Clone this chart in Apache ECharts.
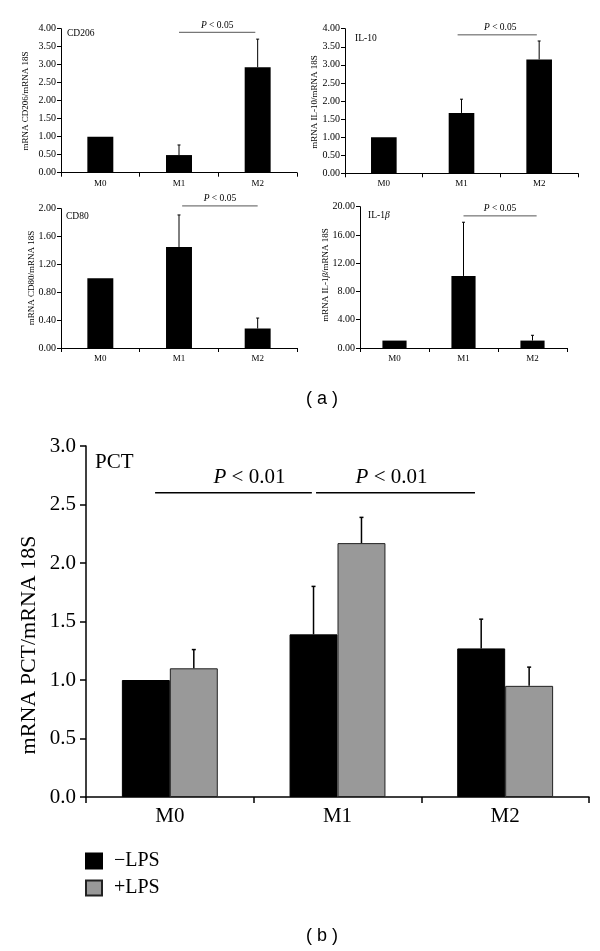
<!DOCTYPE html>
<html>
<head>
<meta charset="utf-8">
<script src="https://cdn.jsdelivr.net/npm/echarts@6/dist/echarts.min.js"></script>
<style>
html,body{margin:0;padding:0;background:#fff;}
#chart{width:600px;height:951px;}
</style>
</head>
<body>
<div id="chart"></div>
<script>
// ---------- data ----------
const categories = ['M0', 'M1', 'M2'];

const cd206Mean = [1.00, 0.49, 2.93];
const cd206Err  = [0, 0.28, 0.78];
const il10Mean  = [1.00, 1.67, 3.15];
const il10Err   = [0, 0.38, 0.51];
const cd80Mean  = [1.00, 1.45, 0.28];
const cd80Err   = [0, 0.46, 0.15];
const il1bMean  = [1.05, 10.2, 1.05];
const il1bErr   = [0, 7.6, 0.75];

const pctMinusLPS    = [1.00, 1.39, 1.27];
const pctMinusLPSErr = [0, 0.41, 0.25];
const pctPlusLPS     = [1.10, 2.17, 0.95];
const pctPlusLPSErr  = [0.16, 0.22, 0.16];

// significance brackets: [fromCategoryIndex, toCategoryIndex, yValue]
const cd206Sig = [[1, 2, 3.90]];
const il10Sig  = [[1, 2, 3.83]];
const cd80Sig  = [[1, 2, 2.04]];
const il1bSig  = [[1, 2, 18.7]];
const pctSig   = [[0, 1, 2.60], [1, 2, 2.60]];

// y-axis ticks: [min, max, interval]
const yTicksSmall = { cd206: [0, 4, 0.5], il10: [0, 4, 0.5], cd80: [0, 2, 0.4], il1b: [0, 20, 4], pct: [0, 3, 0.5] };

// ---------- styling / layout ----------
const SERIF = '"Liberation Serif", "Times New Roman", serif';
const SANS = '"Liberation Sans", Arial, sans-serif';
const chart = echarts.init(document.getElementById('chart'), null, { renderer: 'canvas' });

const grids = [
  { left: 61, top: 28.7, width: 236, height: 144 },
  { left: 345, top: 28.7, width: 233, height: 144.6 },
  { left: 61, top: 208.7, width: 236, height: 139.3 },
  { left: 360, top: 206.7, width: 207, height: 141.3 },
  { left: 86, top: 446, width: 503, height: 351 }
];

function xAx(gi, fs, margin, lw) {
  return {
    type: 'category', gridIndex: gi, data: categories,
    axisLine: { show: true, lineStyle: { color: '#000', width: lw } },
    axisTick: { show: true, length: gi === 4 ? 6 : 4, lineStyle: { color: '#000', width: lw } },
    axisLabel: { color: '#000', fontFamily: SERIF, fontSize: fs, margin: margin }
  };
}
function yAx(gi, t, dec, fs, margin, lw) {
  return {
    type: 'value', gridIndex: gi, min: t[0], max: t[1], interval: t[2],
    axisLine: { show: true, lineStyle: { color: '#000', width: lw } },
    axisTick: { show: true, length: gi === 4 ? 6 : 4, lineStyle: { color: '#000', width: lw } },
    splitLine: { show: false },
    axisLabel: { color: '#000', fontFamily: SERIF, fontSize: fs, margin: margin,
      formatter: v => Number(v).toFixed(dec) }
  };
}

function errData(mean, err) { return mean.map((m, i) => [i, m, err[i]]); }

function errSeries(gi, mean, err, offsetFrac, cap, lw, name) {
  return {
    type: 'custom', name: name, xAxisIndex: gi, yAxisIndex: gi, z: 5, clip: false, silent: true,
    encode: { x: 0, y: 1 },
    data: errData(mean, err),
    renderItem: function (params, api) {
      const e = api.value(2);
      if (!e) return null;
      const c = api.value(0), m = api.value(1);
      const a = api.coord([c, m]);
      const b = api.coord([c, m + e]);
      const bw = api.size([1, 0])[0];
      const x = a[0] + offsetFrac * bw;
      const st = { stroke: '#000', lineWidth: lw };
      return { type: 'group', children: [
        { type: 'line', shape: { x1: x, y1: a[1], x2: x, y2: b[1] }, style: st },
        { type: 'line', shape: { x1: x - cap, y1: b[1], x2: x + cap, y2: b[1] }, style: st }
      ] };
    }
  };
}

function sigSeries(gi, sig, label, fs, lw, off1, off2, textDy, textDx) {
  return {
    type: 'custom', xAxisIndex: gi, yAxisIndex: gi, z: 6, clip: false, silent: true,
    encode: { x: [0, 1], y: 2 },
    data: sig,
    renderItem: function (params, api) {
      const bw = api.size([1, 0])[0];
      const p1 = api.coord([api.value(0), api.value(2)]);
      const p2 = api.coord([api.value(1), api.value(2)]);
      const i = params.dataIndex;
      const x1 = p1[0] + off1[i] * bw, x2 = p2[0] + off2[i] * bw;
      return { type: 'group', children: [
        { type: 'line', shape: { x1: x1, y1: p1[1], x2: x2, y2: p1[1] },
          style: { stroke: gi === 4 ? '#000' : '#555', lineWidth: lw } },
        { type: 'text', x: (x1 + x2) / 2 + textDx[i], y: p1[1] - textDy,
          style: { text: '{i|P} < ' + label, fontFamily: SERIF, fontSize: fs, fill: '#000',
            align: 'center', verticalAlign: 'bottom',
            rich: { i: { fontStyle: 'italic', fontFamily: SERIF, fontSize: fs, fill: '#000' } } } }
      ] };
    }
  };
}

function barSeries(gi, name, data, color, width, border) {
  return {
    type: 'bar', name: name, xAxisIndex: gi, yAxisIndex: gi, data: data,
    barWidth: width, barGap: '0%', silent: true, z: 2,
    itemStyle: { color: color, borderColor: border, borderWidth: border ? 1 : 0 }
  };
}

function vText(text, x, y, fs, rich) {
  return { type: 'text', x: x, y: y, rotation: Math.PI / 2, silent: true,
    style: { text: text, fontFamily: SERIF, fontSize: fs, fill: '#000', align: 'center', verticalAlign: 'middle', rich: rich || {} } };
}
function hText(text, x, y, fs, family, rich, align) {
  return { type: 'text', x: x, y: y, silent: true,
    style: { text: text, fontFamily: family, fontSize: fs, fill: '#000', align: align || 'left', verticalAlign: 'middle', rich: rich || {} } };
}
const betaRich9 = { b: { fontStyle: 'italic', fontFamily: SERIF, fontSize: 9, fill: '#000' } };

const small = 9;
const tickSmall = 10;
const option = {
  animation: false,
  backgroundColor: '#fff',
  grid: grids.map(g => Object.assign({ containLabel: false }, g)),
  xAxis: [
    xAx(0, small, 6, 1), xAx(1, small, 6, 1), xAx(2, small, 6, 1), xAx(3, small, 6, 1), xAx(4, 21, 9, 1.5)
  ],
  yAxis: [
    yAx(0, yTicksSmall.cd206, 2, tickSmall, 5, 1),
    yAx(1, yTicksSmall.il10, 2, tickSmall, 5, 1),
    yAx(2, yTicksSmall.cd80, 2, tickSmall, 5, 1),
    yAx(3, yTicksSmall.il1b, 2, tickSmall, 5, 1),
    yAx(4, yTicksSmall.pct, 1, 21, 10, 1.5)
  ],
  legend: {
    data: ['\u2212LPS', '+LPS'], orient: 'vertical', left: 85, top: 851, padding: 0,
    itemWidth: 16, itemHeight: 15, itemGap: 7, icon: 'rect', selectedMode: false,
    textStyle: { fontFamily: SERIF, fontSize: 20, color: '#000', padding: [0, 0, 0, 7] }
  },
  series: [
    barSeries(0, 'cd206', cd206Mean, '#000', '33%'),
    errSeries(0, cd206Mean, cd206Err, 0, 1.5, 1),
    sigSeries(0, cd206Sig, '0.05', 9.5, 1, [0], [-0.03], 2, [0]),

    barSeries(1, 'il10', il10Mean, '#000', '33%'),
    errSeries(1, il10Mean, il10Err, 0, 1.5, 1),
    sigSeries(1, il10Sig, '0.05', 9.5, 1, [-0.05], [-0.03], 2, [3]),

    barSeries(2, 'cd80', cd80Mean, '#000', '33%'),
    errSeries(2, cd80Mean, cd80Err, 0, 1.5, 1),
    sigSeries(2, cd80Sig, '0.05', 9.5, 1, [0.04], [0], 2, [0]),

    barSeries(3, 'il1b', il1bMean, '#000', '35%'),
    errSeries(3, il1bMean, il1bErr, 0, 1.5, 1),
    sigSeries(3, il1bSig, '0.05', 9.5, 1, [0], [0.06], 2, [0]),

    barSeries(4, '\u2212LPS', pctMinusLPS, '#000', '28.6%', '#000'),
    barSeries(4, '+LPS', pctPlusLPS, '#999999', '28.6%', '#222'),
    errSeries(4, pctMinusLPS, pctMinusLPSErr, -0.143, 2, 1.5),
    errSeries(4, pctPlusLPS, pctPlusLPSErr, 0.143, 2, 1.5),
    sigSeries(4, pctSig, '0.01', 21, 1.5, [-0.088, -0.128], [-0.153, -0.18], 5, [16, -4])
  ],
  graphic: [
    hText('CD206', 67, 33, 9.5, SERIF),
    hText('IL-10', 355, 38, 9.5, SERIF),
    hText('CD80', 66, 216, 9.5, SERIF),
    hText('IL-1{b|\u03B2}', 368, 215, 9.5, SERIF, { b: { fontStyle: 'italic', fontFamily: SERIF, fontSize: 9.5, fill: '#000' } }),
    hText('PCT', 95, 462, 21, SERIF),
    vText('mRNA CD206/mRNA 18S', 26, 101, small),
    vText('mRNA IL-10/mRNA 18S', 315, 102, small),
    vText('mRNA CD80/mRNA 18S', 32, 278, small),
    vText('mRNA IL-1{b|\u03B2}/mRNA 18S', 326, 275, small, betaRich9),
    vText('mRNA PCT/mRNA 18S', 29, 645, 22),
    hText('( a )', 322, 399, 18, SANS, null, 'center'),
    hText('( b )', 322, 936, 18, SANS, null, 'center')
  ]
};
chart.setOption(option);
</script>
</body>
</html>
